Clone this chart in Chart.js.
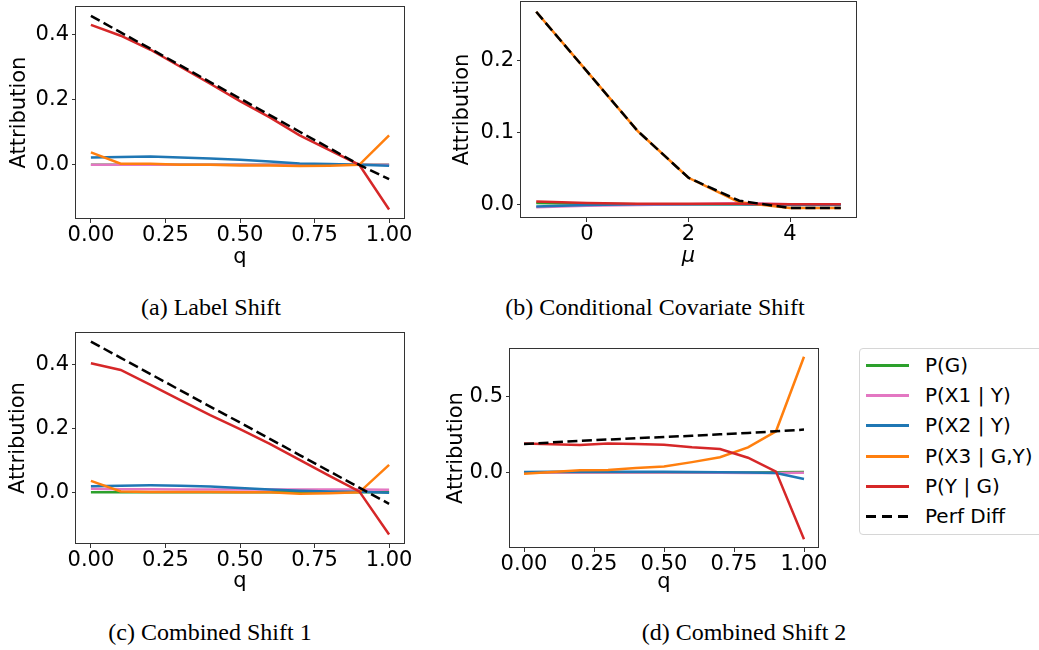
<!DOCTYPE html>
<html>
<head>
<meta charset="utf-8">
<script src="https://cdn.jsdelivr.net/npm/chart.js@4.4.1/dist/chart.umd.min.js"></script>
<style>
  body { margin: 0; width: 1039px; height: 650px; background: #fff; position: relative; overflow: hidden; }
  canvas { position: absolute; }
  .caption { position: absolute; width: 400px; text-align: center; font-family: "Liberation Serif", serif; font-size: 24px; line-height: 24px; color: #000; white-space: nowrap; }
  #legend { position: absolute; left: 859px; top: 348px; width: 200px; height: 185px; border: 1px solid #d6d6d6; border-radius: 4px; }
  .item { position: absolute; left: 0; height: 20px; font-family: "DejaVu Sans", sans-serif; font-size: 20px; line-height: 20px; white-space: nowrap; }
  .swatch { position: absolute; left: 6px; width: 43px; height: 3px; top: 9px; }
  .label { position: absolute; left: 65px; top: 0; }
</style>
</head>
<body>
<canvas id="chartA" width="425" height="275" style="left:0px;top:0px"></canvas>
<canvas id="chartB" width="430" height="275" style="left:440px;top:0px"></canvas>
<canvas id="chartC" width="425" height="280" style="left:0px;top:320px"></canvas>
<canvas id="chartD" width="400" height="275" style="left:430px;top:330px"></canvas>

<div class="caption" style="left:11px;top:295px">(a) Label Shift</div>
<div class="caption" style="left:455px;top:295px">(b) Conditional Covariate Shift</div>
<div class="caption" style="left:10px;top:620px">(c) Combined Shift 1</div>
<div class="caption" style="left:544px;top:620px">(d) Combined Shift 2</div>

<div id="legend"></div>

<script>
// x values
const qValues = [0, 0.1, 0.2, 0.3, 0.4, 0.5, 0.6, 0.7, 0.8, 0.9, 1.0];
const muValues = [-1, 0, 1, 2, 3, 4, 5];

// tick labels
const qTicks = [0, 0.25, 0.5, 0.75, 1];
const muTicks = [0, 2, 4];
const labelYTicks = [0, 0.2, 0.4];
const covariateYTicks = [0, 0.1, 0.2];
const combined1YTicks = [0, 0.2, 0.4];
const combined2YTicks = [0, 0.5];

const seriesNames = ["P(G)", "P(X1 | Y)", "P(X2 | Y)", "P(X3 | G,Y)", "P(Y | G)", "Perf Diff"];
const seriesColors = ["#2ca02c", "#e377c2", "#1f77b4", "#ff7f0e", "#d62728", "#000000"];

// (a) Label Shift
const labelG = [0, 0, 0, 0, 0, 0, 0, 0, 0, 0, 0];
const labelX1 = [0, 0, 0, 0, 0, 0, 0, 0, 0, 0, 0];
const labelX2 = [0.022, 0.024, 0.025, 0.022, 0.019, 0.015, 0.01, 0.004, 0.002, 0.0, -0.003];
const labelX3 = [0.038, 0.003, 0.003, 0.0, 0.0, -0.002, -0.002, -0.004, -0.003, 0.0, 0.09];
const labelY = [0.428, 0.395, 0.352, 0.3, 0.248, 0.195, 0.145, 0.09, 0.045, 0.0, -0.137];
const labelPerf = [0.456, 0.405, 0.355, 0.304, 0.253, 0.203, 0.152, 0.101, 0.051, 0.0, -0.044];

// (b) Conditional Covariate Shift
const covG = [0.002, 0.001, 0.0, 0.0, 0.0, 0.0, 0.0];
const covX1 = [-0.004, -0.002, -0.001, 0.0, 0.002, 0.0, 0.0];
const covX2 = [-0.003, -0.001, 0.0, 0.0, 0.0, -0.001, -0.001];
const covX3 = [0.268, 0.185, 0.102, 0.037, 0.003, -0.005, -0.005];
const covY = [0.004, 0.002, 0.001, 0.001, 0.001, 0.0, 0.0];
const covPerf = [0.268, 0.185, 0.102, 0.037, 0.005, -0.005, -0.005];

// (c) Combined Shift 1
const comb1G = [0, 0, 0, 0, 0, 0, 0, 0, 0, 0, 0];
const comb1X1 = [0.011, 0.01, 0.01, 0.009, 0.009, 0.009, 0.009, 0.009, 0.009, 0.009, 0.008];
const comb1X2 = [0.019, 0.021, 0.022, 0.021, 0.018, 0.014, 0.009, 0.005, 0.003, 0.002, -0.001];
const comb1X3 = [0.036, 0.003, 0.001, 0.001, 0.001, 0.0, 0.0, -0.004, -0.003, 0.0, 0.086];
const comb1Y = [0.405, 0.384, 0.337, 0.289, 0.242, 0.198, 0.152, 0.102, 0.052, 0.003, -0.132];
const comb1Perf = [0.473, 0.422, 0.371, 0.32, 0.269, 0.219, 0.168, 0.117, 0.066, 0.015, -0.036];

// (d) Combined Shift 2
const comb2G = [0, 0, 0, 0, 0, 0, 0, 0, 0, 0.002, 0.004];
const comb2X1 = [0, 0, 0, 0, 0, 0, 0, -0.002, -0.003, -0.003, -0.002];
const comb2X2 = [0.004, 0.005, 0.005, 0.005, 0.005, 0.005, 0.004, 0.002, 0.0, -0.003, -0.043];
const comb2X3 = [-0.008, 0.003, 0.015, 0.017, 0.03, 0.04, 0.068, 0.1, 0.165, 0.27, 0.758];
const comb2Y = [0.19, 0.185, 0.18, 0.19, 0.187, 0.182, 0.165, 0.154, 0.097, 0.006, -0.437];
const comb2Perf = [0.186, 0.197, 0.207, 0.216, 0.225, 0.232, 0.241, 0.25, 0.259, 0.27, 0.281];

const tickFont = { family: "DejaVu Sans", size: 21, lineHeight: 1.2 };

// frame round the plot area, like matplotlib spines
const boxPlugin = {
  id: "box",
  afterDraw(chart) {
    const { ctx, chartArea: a } = chart;
    ctx.save();
    ctx.strokeStyle = "#333";
    ctx.lineWidth = 1;
    ctx.strokeRect(Math.round(a.left) - 0.5, Math.round(a.top) + 0.5, Math.round(a.width) + 1, Math.round(a.height) - 1);
    ctx.restore();
  },
};

function makeChart(id, xs, series, cfg) {
  new Chart(document.getElementById(id), {
    type: "line",
    data: {
      datasets: series.map((ys, i) => ({
        label: seriesNames[i],
        data: xs.map((x, j) => ({ x: x, y: ys[j] })),
        borderColor: seriesColors[i],
        borderWidth: 2.5,
        borderDash: i === 5 ? [10, 4.5] : [],
        pointRadius: 0,
        tension: 0,
        fill: false,
        order: 5 - i,
      })),
    },
    options: {
      responsive: false,
      animation: false,
      layout: { padding: cfg.padding },
      plugins: { legend: { display: false }, tooltip: { enabled: false } },
      scales: {
        x: {
          type: "linear",
          min: cfg.xMin,
          max: cfg.xMax,
          afterBuildTicks: (s) => { s.ticks = cfg.xTicks.map((v) => ({ value: v })); },
          afterFit: (s) => { s.height = cfg.xH; s.paddingLeft = 0; s.paddingRight = 0; },
          ticks: { font: tickFont, color: "#000", padding: 0, maxRotation: 0, autoSkip: false, callback: cfg.xFormat },
          grid: { drawOnChartArea: false, drawTicks: true, tickLength: 4, color: "#333" },
          border: { display: false },
          title: { display: true, text: cfg.xTitle, color: "#000", font: { family: "DejaVu Sans", size: 21, style: cfg.xTitleStyle || "normal" }, padding: { top: 0, bottom: cfg.xTitlePad } },
        },
        y: {
          type: "linear",
          min: cfg.yMin,
          max: cfg.yMax,
          afterBuildTicks: (s) => { s.ticks = cfg.yTicks.map((v) => ({ value: v })); },
          afterFit: (s) => { s.width = cfg.yW; s.paddingTop = 0; s.paddingBottom = 0; },
          ticks: { font: tickFont, color: "#000", padding: 3, autoSkip: false, callback: (v) => v.toFixed(1) },
          grid: { drawOnChartArea: false, drawTicks: true, tickLength: 4, color: "#333" },
          border: { display: false },
          title: { display: true, text: "Attribution", color: "#000", font: { family: "DejaVu Sans", size: 21 }, padding: { top: cfg.yTitlePad, bottom: 0 } },
        },
      },
    },
    plugins: [boxPlugin],
  });
}

makeChart("chartA", qValues, [labelG, labelX1, labelX2, labelX3, labelY, labelPerf], {
  padding: { top: 6, right: 21, left: 0, bottom: 0 },
  xMin: -0.05, xMax: 1.05, yMin: -0.166, yMax: 0.486,
  xTicks: qTicks, yTicks: labelYTicks, xFormat: (v) => v.toFixed(2),
  xTitle: "q", xTitlePad: 5, yW: 76, xH: 56, yTitlePad: 7,
});

makeChart("chartB", muValues, [covG, covX1, covX2, covX3, covY, covPerf], {
  padding: { top: 1, right: 14, left: 0, bottom: 0 },
  xMin: -1.3, xMax: 5.3, yMin: -0.019, yMax: 0.283,
  xTicks: muTicks, yTicks: covariateYTicks, xFormat: (v) => String(v),
  xTitle: "μ", xTitleStyle: "italic", xTitlePad: 6, yW: 81, xH: 57, yTitlePad: 10,
});

makeChart("chartC", qValues, [comb1G, comb1X1, comb1X2, comb1X3, comb1Y, comb1Perf], {
  padding: { top: 12, right: 21, left: 0, bottom: 0 },
  xMin: -0.05, xMax: 1.05, yMin: -0.162, yMax: 0.503,
  xTicks: qTicks, yTicks: combined1YTicks, xFormat: (v) => v.toFixed(2),
  xTitle: "q", xTitlePad: 6, yW: 76, xH: 56, yTitlePad: 6,
});

makeChart("chartD", qValues, [comb2G, comb2X1, comb2X2, comb2X3, comb2Y, comb2Perf], {
  padding: { top: 18, right: 12, left: 0, bottom: 0 },
  xMin: -0.05, xMax: 1.05, yMin: -0.494, yMax: 0.815,
  xTicks: qTicks, yTicks: combined2YTicks, xFormat: (v) => v.toFixed(2),
  xTitle: "q", xTitlePad: 10, yW: 80, xH: 57, yTitlePad: 14,
});

// legend box
const legend = document.getElementById("legend");
seriesNames.forEach((name, i) => {
  const item = document.createElement("div");
  item.className = "item";
  item.style.top = (6 + i * 30.2) + "px";
  const sw = document.createElement("div");
  sw.className = "swatch";
  sw.style.background = i === 5
    ? "repeating-linear-gradient(to right, #000 0 10px, transparent 10px 16px)"
    : seriesColors[i];
  const lab = document.createElement("div");
  lab.className = "label";
  lab.textContent = name;
  item.appendChild(sw);
  item.appendChild(lab);
  legend.appendChild(item);
});
</script>
</body>
</html>
